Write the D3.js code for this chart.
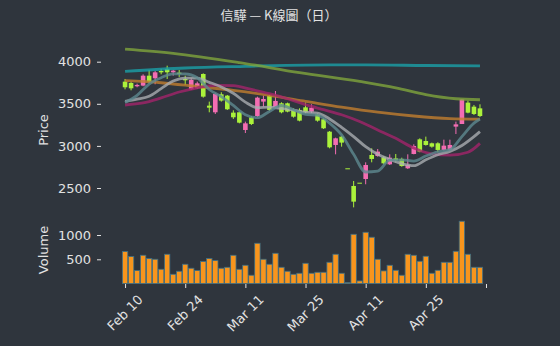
<!DOCTYPE html>
<html>
<head>
<meta charset="utf-8">
<script src="https://cdn.jsdelivr.net/npm/d3@7"></script>
<style>
  html, body { margin: 0; padding: 0; background: #2f353d; }
  svg { display: block; }
  text { font-family: "DejaVu Sans", sans-serif; }
</style>
</head>
<body>
<svg width="560" height="346"></svg>
<script>
// daily bars
const opens = [3763,3747,3708,3716,3834,3803,3890,3914,3874,3870,
  3795,3672,3684,3854,3478,3399,3613,3597,3395,3399,
  3189,3339,3355,3526,3597,3454,3506,3506,3427,3427,
  3458,3407,3375,3316,3169,3011,3110,2734,2524,2563,
  2607,2892,2880,2864,2781,2852,2845,2734,2904,3078,
  3058,3031,3031,2952,2952,3229,3260,3514,3466,3446];
const closes = [3696,3684,3724,3834,3763,3874,3874,3874,3894,3854,
  3779,3783,3743,3585,3454,3617,3538,3435,3340,3276,
  3268,3260,3573,3557,3427,3534,3399,3407,3347,3300,
  3399,3454,3300,3209,2983,3090,3039,2734,2338,2563,
  2773,2845,2932,2793,2860,2829,2761,2773,2999,2932,
  3011,2991,2952,3003,3011,3256,3553,3395,3379,3355];
const highs = [3795,3763,3739,3850,3902,3890,3914,3953,3902,3902,
  3834,3803,3763,3862,3526,3625,3637,3605,3423,3407,
  3288,3355,3585,3597,3605,3652,3518,3514,3446,3446,
  3514,3494,3387,3328,3177,3098,3118,2734,2583,2563,
  2805,2971,2963,2880,2900,2904,2860,2900,3019,3090,
  3110,3039,3043,3074,3074,3288,3557,3537,3486,3494];
const lows = [3672,3660,3696,3708,3743,3732,3850,3795,3834,3819,
  3724,3664,3676,3573,3399,3379,3526,3427,3320,3268,
  3153,3248,3343,3466,3415,3439,3387,3399,3336,3292,
  3387,3387,3288,3201,2971,2900,2991,2734,2270,2563,
  2544,2805,2872,2781,2773,2805,2753,2726,2900,2924,
  3003,2979,2924,2944,2944,3141,3260,3387,3367,3343];
const volumes = [659,556,268,583,515,501,295,604,192,254,
  398,316,268,453,515,473,316,336,583,295,
  377,172,830,501,398,624,336,254,192,213,
  418,213,233,233,439,604,213,20,1015,55,
  1056,954,501,261,377,274,172,604,583,460,
  563,213,274,439,439,665,1283,604,336,336];

// moving averages as [bar index, value]
const ma5 = [[0,3515],[2,3600],[4,3735],[6,3810],[8,3855],[10,3855],[12,3810],[14,3670],[16,3585],[18,3480],
  [20,3370],[22,3335],[24,3410],[26,3480],[28,3430],[30,3375],[32,3365],[34,3270],[36,3130],[38,2900],
  [40,2690],[42,2700],[44,2830],[46,2835],[48,2820],[50,2880],[52,2930],[54,2955],[56,3110],[58,3270],[59,3320]];
const ma10 = [[0,3530],[2,3555],[4,3590],[6,3680],[8,3770],[10,3805],[12,3805],[14,3755],[16,3700],[18,3625],
  [20,3520],[22,3455],[24,3460],[26,3445],[28,3425],[30,3400],[32,3390],[34,3320],[36,3220],[38,3110],
  [40,2990],[42,2900],[44,2840],[46,2790],[48,2765],[50,2835],[52,2895],[54,2935],[56,3005],[58,3110],[59,3170]];
const ma20 = [[0,3486],[3,3510],[6,3570],[9,3640],[12,3690],[15,3720],[18,3715],[21,3670],[24,3620],[27,3560],
  [30,3490],[33,3430],[36,3370],[39,3290],[42,3190],[45,3090],[48,2975],[51,2905],[54,2890],[57,2925],[59,3030]];
const ma60 = [[0,3775],[6,3750],[12,3705],[18,3660],[24,3600],[30,3530],[36,3460],[42,3400],[48,3355],[54,3325],[59,3318]];
const ma120 = [[0,4150],[8,4100],[19,3990],[29,3870],[39,3765],[45,3690],[50,3610],[55,3560],[59,3548]];
const ma240 = [[0,3885],[10,3925],[20,3945],[30,3960],[40,3962],[50,3955],[59,3950]];

const tickIdx = [0, 10, 20, 30, 40, 50, 60];
const tickLabels = ['Feb 10', 'Feb 24', 'Mar 11', 'Mar 25', 'Apr 11', 'Apr 25', ''];
const priceTicks = [2500, 3000, 3500, 4000];
const volTicks = [500, 1000];

const upColor = '#f36db2';
const downColor = '#abf23b';
const textColor = '#e2e2e2';

const svg = d3.select('svg');

const x = d3.scaleLinear().domain([-4, 61]).range([101, 492]);
const yP = d3.scaleLinear().domain([2500, 4000]).range([188, 61.7]);
const yV = d3.scaleLinear().domain([0, 1000]).range([283.6, 235]);

// title
svg.append('text')
  .attr('x', 279).attr('y', 14)
  .attr('text-anchor', 'middle')
  .attr('dominant-baseline', 'central')
  .style('font-family', '"Noto Sans CJK TC", "DejaVu Sans", sans-serif')
  .style('font-size', '13px')
  .attr('fill', textColor)
  .text('信驊 — K線圖（日）');

// candles
const idx = d3.range(opens.length);
const candles = svg.append('g');
candles.selectAll('line')
  .data(idx)
  .enter()
  .append('line')
  .attr('x1', i => x(i)).attr('x2', i => x(i))
  .attr('y1', i => yP(highs[i])).attr('y2', i => yP(lows[i]))
  .attr('stroke', i => closes[i] >= opens[i] && closes[i] != opens[i] ? upColor : downColor)
  .attr('stroke-width', 1);
candles.selectAll('rect')
  .data(idx)
  .enter()
  .append('rect')
  .attr('x', i => x(i) - 2.3)
  .attr('width', 4.6)
  .attr('y', i => yP(Math.max(opens[i], closes[i])))
  .attr('height', i => Math.max(1, yP(Math.min(opens[i], closes[i])) - yP(Math.max(opens[i], closes[i]))))
  .attr('fill', i => closes[i] > opens[i] ? upColor : downColor);

// moving averages on top
const line = d3.line()
  .x(d => x(d[0]))
  .y(d => yP(d[1]))
  .curve(d3.curveMonotoneX);

const maList = [
  [ma240, '#1aa0a8'],
  [ma120, '#7fa53c'],
  [ma60, '#c27e2e'],
  [ma20, '#a3246a'],
  [ma10, '#a9adb0'],
  [ma5, '#5e8a90']
];
maList.forEach(m => {
  svg.append('path')
    .attr('d', line(m[0]))
    .attr('fill', 'none')
    .attr('stroke', m[1])
    .attr('stroke-width', 2.8)
    .attr('stroke-opacity', 0.8);
});

// volume
svg.append('g').selectAll('rect')
  .data(idx)
  .enter()
  .append('rect')
  .attr('x', i => x(i) - 2.7)
  .attr('width', 5.4)
  .attr('y', i => yV(volumes[i]))
  .attr('height', i => yV(0) - yV(volumes[i]))
  .attr('fill', '#f8951d')
  .attr('stroke', '#3d6f86')
  .attr('stroke-width', 0.8);

// axes
const styleAxis = g => {
  g.select('.domain').remove();
  g.selectAll('line').attr('stroke', textColor);
  g.selectAll('text').attr('fill', textColor).style('font-size', '13px')
    .style('font-family', '"DejaVu Sans", sans-serif');
};

svg.append('g')
  .attr('transform', 'translate(101,0)')
  .call(d3.axisLeft(yP).tickValues(priceTicks).tickSize(4).tickPadding(6).tickFormat(d3.format('d')))
  .call(styleAxis);

svg.append('g')
  .attr('transform', 'translate(101,0)')
  .call(d3.axisLeft(yV).tickValues(volTicks).tickSize(4).tickPadding(6).tickFormat(d3.format('d')))
  .call(styleAxis);

svg.append('g')
  .attr('transform', 'translate(0,284)')
  .call(d3.axisBottom(x).tickValues(tickIdx).tickSize(4).tickFormat(''))
  .call(styleAxis);

// rotated date labels
tickIdx.forEach((t, k) => {
  if (!tickLabels[k]) return;
  const txt = svg.append('text')
    .attr('text-anchor', 'middle')
    .attr('dominant-baseline', 'central')
    .attr('fill', textColor)
    .style('font-size', '13px')
    .text(tickLabels[k]);
  const w = txt.node().getComputedTextLength();
  const h = 15;
  const cy = 292 + (w + h) / (2 * Math.SQRT2);
  txt.attr('transform', `translate(${x(t)},${cy}) rotate(-45)`);
});

// axis titles
svg.append('text')
  .attr('transform', 'translate(43,130) rotate(-90)')
  .attr('text-anchor', 'middle')
  .attr('dominant-baseline', 'central')
  .attr('fill', textColor)
  .style('font-size', '13px')
  .text('Price');

svg.append('text')
  .attr('transform', 'translate(43,250) rotate(-90)')
  .attr('text-anchor', 'middle')
  .attr('dominant-baseline', 'central')
  .attr('fill', textColor)
  .style('font-size', '13px')
  .text('Volume');
</script>
</body>
</html>
